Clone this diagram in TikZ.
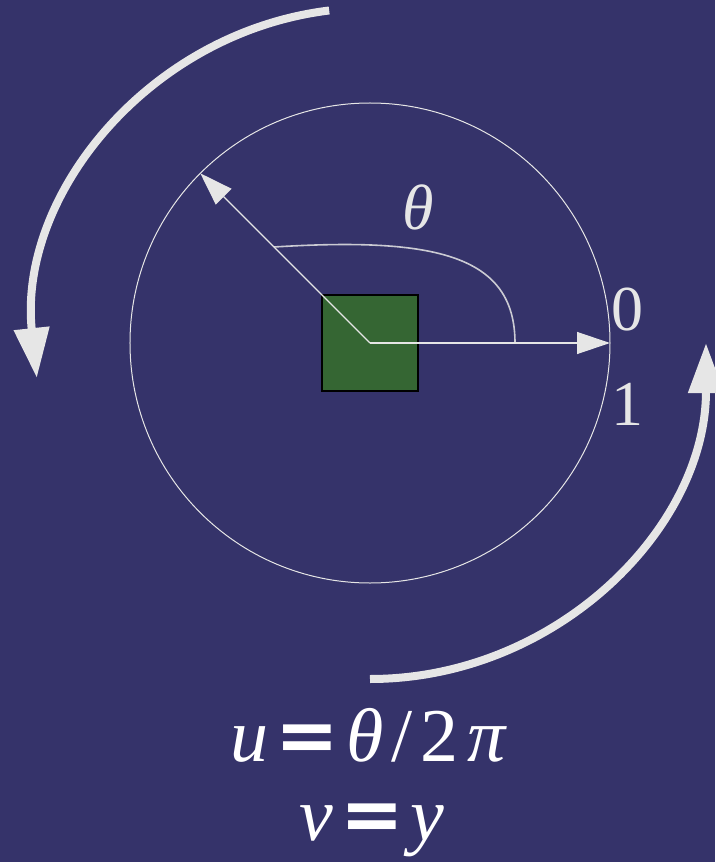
\documentclass[tikz,border=0pt]{standalone}
\usepackage{fontspec}
\setmainfont{Liberation Serif}
\newfontfamily\eqfont{DejaVu Sans}
\usetikzlibrary{arrows.meta,positioning}
\definecolor{cybg}{HTML}{35336A}
\definecolor{cyink}{HTML}{E6E6E6}
\definecolor{cygreen}{HTML}{356633}
\tikzset{
  cy rim/.style={draw=cyink, line width=1pt},
  cy ray/.style={-{Triangle[length=33pt,width=22pt]}, draw=cyink, line width=1.3pt},
  cy sweep/.style={-{Triangle[length=50pt,width=34pt]}, draw=cyink, line width=8pt,
    line cap=butt},
  cy block/.style={draw=black, line width=1.2pt, fill=cygreen, minimum size=96pt,
    inner sep=0pt},
  cy label/.style={font=\fontsize{64}{64}\selectfont, text=cyink, inner sep=0pt},
  cy eq/.style={font=\fontsize{76}{90}\selectfont, text=white, inner sep=0pt}
}
\begin{document}
\begin{tikzpicture}[x=1pt, y=1pt]
  % page and background
  \useasboundingbox (-370,-519) rectangle (345,343);
  \fill[cybg] (-370,-519) rectangle (345,343);

  \coordinate (ctr) at (0,0);
  \coordinate (rim0) at (0:240);
  \coordinate (rimt) at (135:240);
  \draw[cy rim] (ctr) circle[radius=240];
  \node[cy block] (block) at (ctr) {};

  % angle theta
  \draw[draw=cyink!85!cybg, line width=1.6pt] (145,0) .. controls (145,88) and (65,106) .. (-96,96);
  \draw[cy ray] (ctr) -- (rim0);
  \draw[cy ray] (ctr) -- (rimt);
  \node[cy label] (theta) at (48,136) {\textit{θ}};

  % seam labels
  \foreach \y/\lab in {33/0,-61/1} {
    \node[cy label] at (257,\y) {\lab};
  }

  % sweep arrows
  \draw[cy sweep] (97:335) arc[start angle=97, end angle=186, radius=335];
  \draw[cy sweep] (270:336) arc[start angle=270, end angle=360, radius=336];

  % mapping
  \node[cy eq, anchor=base] (equ) at (-1,-418)
    {\textit{u}\kern7pt{\eqfont\bfseries =}\kern7pt\textit{θ}\kern8pt/\kern8pt2\kern9pt\textit{π}};
  \node[cy eq, anchor=base] (eqv) at (2,-497)
    {\textit{v}\kern7pt{\eqfont\bfseries =}\kern7pt\textit{y}};
\end{tikzpicture}
\end{document}
